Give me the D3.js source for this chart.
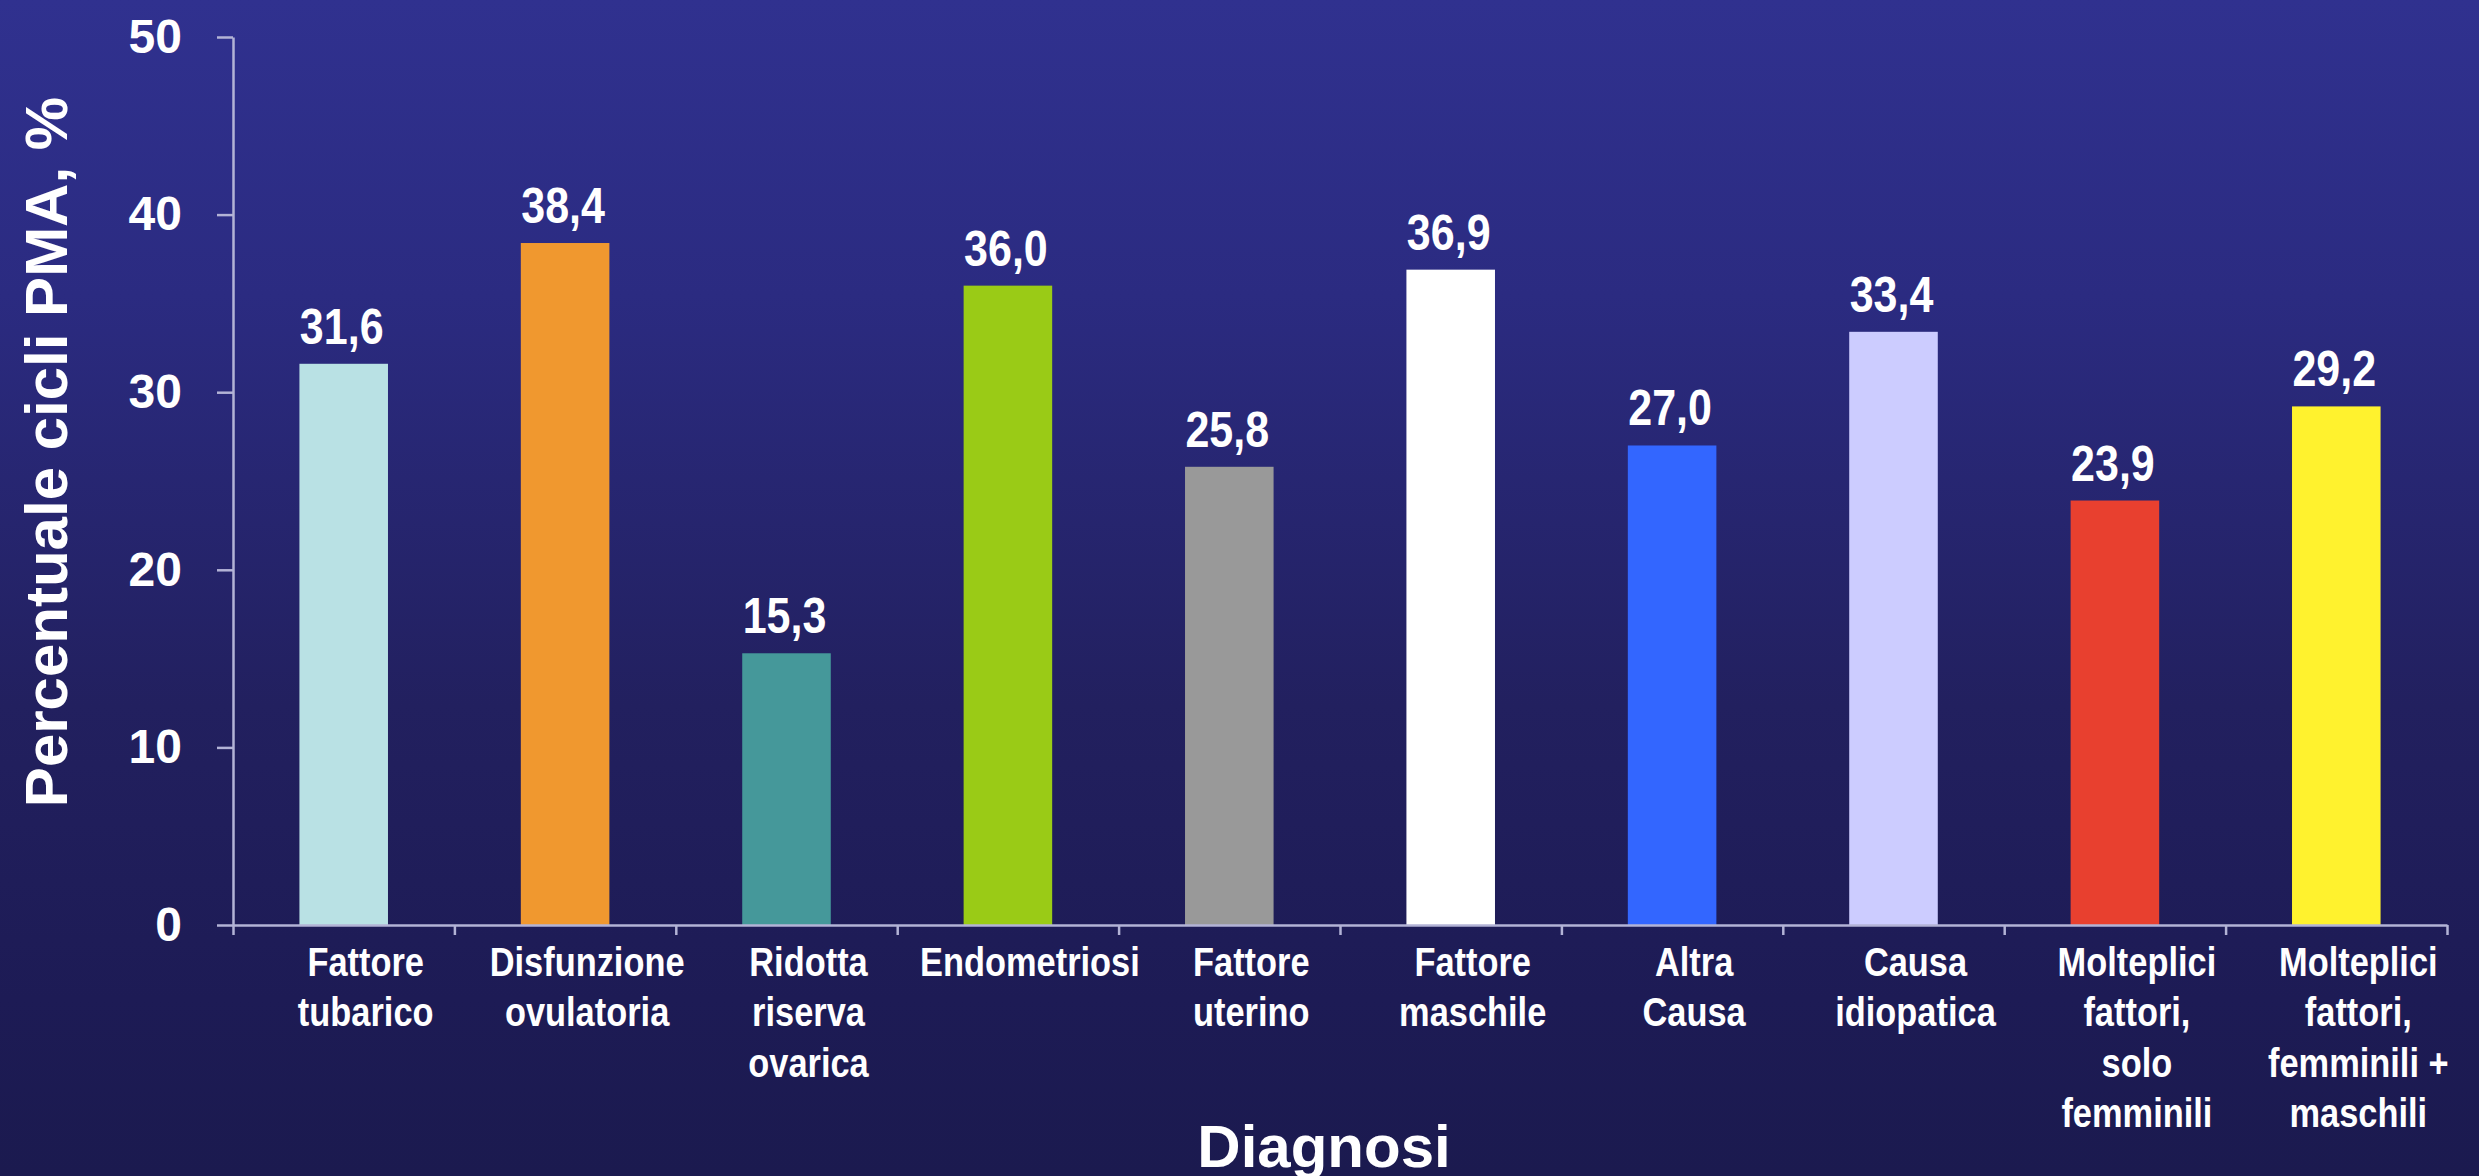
<!DOCTYPE html>
<html lang="it">
<head>
<meta charset="utf-8">
<title>Percentuale cicli PMA per diagnosi</title>
<script src="https://cdn.jsdelivr.net/npm/d3@7/dist/d3.min.js"></script>
<style>
  html, body { margin: 0; padding: 0; overflow: hidden; background: #1b1a4f; }
  svg { display: block; }
  text { font-family: "Liberation Sans", Arial, Helvetica, sans-serif; font-weight: bold; fill: #ffffff; }
</style>
</head>
<body>
<svg id="chart"></svg>
<script>
// Diagnosi (righe di ciascuna etichetta) e valori percentuali
const categories = [
  ["Fattore", "tubarico"],
  ["Disfunzione", "ovulatoria"],
  ["Ridotta", "riserva", "ovarica"],
  ["Endometriosi"],
  ["Fattore", "uterino"],
  ["Fattore", "maschile"],
  ["Altra", "Causa"],
  ["Causa", "idiopatica"],
  ["Molteplici", "fattori,", "solo", "femminili"],
  ["Molteplici", "fattori,", "femminili +", "maschili"]
];
const values = [31.6, 38.4, 15.3, 36.0, 25.8, 36.9, 27.0, 33.4, 23.9, 29.2];
const barColors = ["#b9e1e4", "#f0982f", "#45989a", "#9acb16", "#999999",
                   "#ffffff", "#3366ff", "#ccccff", "#e8402f", "#fff22e"];
const yTicks = [0, 10, 20, 30, 40, 50];
const yTitle = "Percentuale cicli PMA, %";
const xTitle = "Diagnosi";

const W = 2479, H = 1176;
const margin = { left: 233, right: 32, top: 37, bottom: 251 };
const axisColor = "#b3b3d6";

const svg = d3.select("#chart").attr("width", W).attr("height", H);

// sfondo sfumato blu
const grad = svg.append("defs").append("linearGradient")
  .attr("id", "bg").attr("x1", 0).attr("y1", 0).attr("x2", 0).attr("y2", 1);
[[0, "#30318f"], [0.25, "#2b2b81"], [0.6, "#22205f"], [0.85, "#1d1b55"], [1, "#1b1a4f"]]
  .forEach(([o, c]) => grad.append("stop").attr("offset", o).attr("stop-color", c));
svg.append("rect").attr("width", W).attr("height", H).attr("fill", "url(#bg)");

const x = d3.scaleBand()
  .domain(d3.range(categories.length))
  .range([margin.left, W - margin.right])
  .paddingInner(0.6).paddingOuter(0.3);

const y = d3.scaleLinear()
  .domain([0, 50])
  .range([H - margin.bottom, margin.top]);

const it = d3.formatLocale({ decimal: ",", thousands: ".", grouping: [3], currency: ["€", ""] });
const fmt = it.format(".1f");

// barre
svg.append("g").selectAll("rect")
  .data(values)
  .join("rect")
  .attr("x", (d, i) => x(i))
  .attr("y", d => y(d))
  .attr("width", x.bandwidth())
  .attr("height", d => y(0) - y(d))
  .attr("fill", (d, i) => barColors[i]);

// asse Y
const yAxis = svg.append("g")
  .attr("transform", `translate(${margin.left},0)`)
  .call(d3.axisLeft(y).tickValues(yTicks).tickSize(16).tickSizeOuter(0).tickPadding(35).tickFormat(d3.format("d")));
yAxis.selectAll("path, line").attr("stroke", axisColor).attr("stroke-width", 2.5);
yAxis.selectAll("text")
  .style("font-size", "48px")
  .style("font-family", "'Liberation Sans', Arial, sans-serif")
  .style("font-weight", "bold")
  .attr("fill", "#ffffff");

// asse X con tacche ai confini delle categorie
const xEdges = d3.scaleLinear().domain([0, categories.length]).range([margin.left, W - margin.right]);
const xAxis = svg.append("g")
  .attr("transform", `translate(0,${y(0)})`)
  .call(d3.axisBottom(xEdges).tickValues(d3.range(categories.length + 1)).tickSize(10).tickSizeOuter(0).tickFormat(""));
xAxis.selectAll("path, line").attr("stroke", axisColor).attr("stroke-width", 2.5);

// etichette delle categorie (carattere condensato)
const labelShift = 22;
const catG = svg.append("g").selectAll("text")
  .data(categories)
  .join("text")
  .attr("text-anchor", "middle")
  .attr("transform", (d, i) => `translate(${x(i) + x.bandwidth() / 2 + labelShift},${y(0) + 51}) scale(0.86,1)`)
  .style("font-size", "40px");
catG.selectAll("tspan")
  .data(d => d)
  .join("tspan")
  .attr("x", 0)
  .attr("dy", (d, j) => j === 0 ? 0 : 50.5)
  .text(d => d);

// valori sopra le barre
svg.append("g").selectAll("text")
  .data(values)
  .join("text")
  .attr("text-anchor", "middle")
  .attr("transform", (d, i) => `translate(${x(i) + x.bandwidth() / 2 - 2},${y(d) - 20}) scale(0.86,1)`)
  .style("font-size", "50px")
  .text(d => fmt(d));

// titoli degli assi
svg.append("text")
  .attr("text-anchor", "middle")
  .attr("transform", `translate(67,452) rotate(-90)`)
  .style("font-size", "60px")
  .text(yTitle);

svg.append("text")
  .attr("text-anchor", "middle")
  .attr("x", 1324)
  .attr("y", 1167)
  .style("font-size", "60px")
  .text(xTitle);
</script>
</body>
</html>
